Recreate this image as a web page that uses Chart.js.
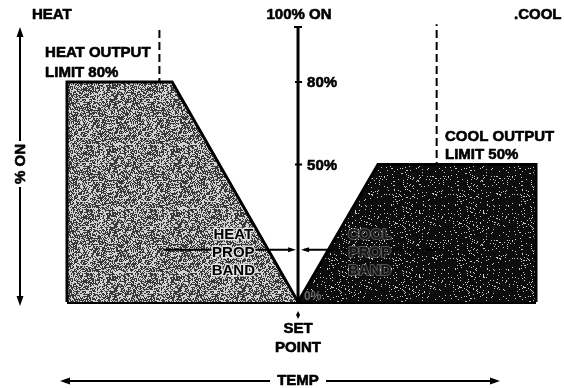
<!DOCTYPE html>
<html>
<head>
<meta charset="utf-8">
<script src="https://cdn.jsdelivr.net/npm/chart.js@4.4.1/dist/chart.umd.min.js"></script>
<style>
  html, body { margin: 0; padding: 0; background: #fff; }
  canvas { display: block; }
</style>
</head>
<body>
<canvas id="chart" width="564" height="388"></canvas>
<script>
// Temperature relative to the set point (arbitrary units) against output in % ON
const heatTemp = [-10, -10, -5.45, 0];
const heatOut  = [0, 80, 80, 0];
const coolTemp = [0, 3.46, 10.3, 10.3];
const coolOut  = [0, 50, 50, 0];

// proportional band edges and the level the band arrows sit at
const heatBandEdge = -6;
const coolBandEdge = 6;
const bandArrowLevel = 19;

// ticks on the centre (set point) axis
const axisTicks = [80, 50];
const axisTickLabels = ['80%', '50%'];

const FONT = "bold 15px 'Liberation Sans', Arial, sans-serif";

// cheap deterministic hash, used only for the stipple texture
function hash(n) {
  let h = (n * 2654435761) >>> 0;
  h ^= h >>> 13; h = Math.imul(h, 1274126177) >>> 0; h = (h ^ (h >>> 16)) >>> 0;
  return h / 4294967296;
}

function stipple(base, speck, amount, seed) {
  const c = document.createElement('canvas');
  c.width = 64; c.height = 64;
  const g = c.getContext('2d');
  const img = g.createImageData(64, 64);
  for (let i = 0; i < 64 * 64; i++) {
    const v = hash(i * 7 + seed) < amount ? speck : base;
    img.data[i * 4] = v; img.data[i * 4 + 1] = v; img.data[i * 4 + 2] = v; img.data[i * 4 + 3] = 255;
  }
  g.putImageData(img, 0, 0);
  return g.createPattern(c, 'repeat');
}

const toPoints = (xs, ys) => xs.map((x, i) => ({ x, y: ys[i] }));

function arrowHead(ctx, x, y, dir, len, half) {
  // dir: angle the arrow points to
  ctx.save();
  ctx.translate(x, y);
  ctx.rotate(dir);
  ctx.beginPath();
  ctx.moveTo(0, 0);
  ctx.lineTo(-len, -half);
  ctx.lineTo(-len, half);
  ctx.closePath();
  ctx.fill();
  ctx.restore();
}

// heavy ink: fill plus a thin stroke of the same colour
function ink(ctx, text, x, y) {
  ctx.lineWidth = 0.6;
  ctx.strokeText(text, x, y);
  ctx.fillText(text, x, y);
}

const annotations = {
  id: 'annotations',
  afterDatasetsDraw(chart) {
    const ctx = chart.ctx;
    const X = v => chart.scales.x.getPixelForValue(v);
    const Y = v => chart.scales.y.getPixelForValue(v);
    const x0 = X(0), y0 = Y(0);

    ctx.save();
    ctx.fillStyle = '#000';
    ctx.strokeStyle = '#000';

    // top cap and ticks of the centre axis
    ctx.lineWidth = 2;
    ctx.beginPath();
    ctx.moveTo(x0 - 4, Y(100)); ctx.lineTo(x0 + 4, Y(100));
    axisTicks.forEach(t => { ctx.moveTo(x0 - 3, Y(t)); ctx.lineTo(x0 + 4, Y(t)); });
    ctx.stroke();

    ctx.font = FONT;
    ctx.textBaseline = 'middle';
    ctx.textAlign = 'left';
    axisTicks.forEach((t, i) => ink(ctx, axisTickLabels[i], x0 + 9, Y(t) + 1));

    // proportional band arrows
    const by = Y(bandArrowLevel);
    ctx.lineWidth = 2;
    ctx.beginPath();
    ctx.moveTo(X(heatBandEdge) + 4, by); ctx.lineTo(x0 - 6, by);
    ctx.moveTo(x0 + 6, by); ctx.lineTo(X(coolBandEdge), by);
    ctx.stroke();
    arrowHead(ctx, x0 - 2, by, 0, 8, 2.5);
    arrowHead(ctx, x0 + 3, by, Math.PI, 8, 2.5);

    // titles along the top
    ctx.textAlign = 'left';
    ink(ctx, 'HEAT', 32, 15);
    ink(ctx, '.COOL', 514, 15);
    ctx.textAlign = 'center';
    ink(ctx, '100% ON', x0 + 1, 15);

    // output limit notes
    ctx.textAlign = 'left';
    ink(ctx, 'HEAT OUTPUT', X(-10.95), Y(90.6));
    ink(ctx, 'LIMIT 80%', X(-10.95), Y(83.3));
    ink(ctx, 'COOL OUTPUT', X(6.36), Y(60));
    ink(ctx, 'LIMIT 50%', X(6.36), Y(53.4));

    // band labels inside the filled areas
    ctx.textAlign = 'center';
    ctx.lineJoin = 'round';
    ['HEAT', 'PROP', 'BAND'].forEach((w, i) => {
      const y = Y(24.4 - i * 6.5);
      ctx.lineWidth = 3; ctx.strokeStyle = 'rgba(235,235,235,0.9)';
      ctx.strokeText(w, X(-2.8), y);
      ctx.fillStyle = '#000';
      ctx.fillText(w, X(-2.8), y);
    });
    ['COOL', 'PROP', 'BAND'].forEach((w, i) => {
      const y = Y(24.4 - i * 6.5);
      ctx.lineWidth = 2; ctx.strokeStyle = 'rgba(200,200,200,0.4)';
      ctx.strokeText(w, X(3.1), y);
      ctx.fillStyle = '#151515';
      ctx.fillText(w, X(3.1), y);
    });
    ctx.fillStyle = '#666';
    ctx.textAlign = 'left';
    ctx.font = "bold 12px 'Liberation Sans', Arial, sans-serif";
    ctx.fillText('0%', x0 + 6, y0 - 5);

    // back to plain black ink
    ctx.fillStyle = '#000';
    ctx.strokeStyle = '#000';

    // set point marker and label
    ctx.beginPath();
    ctx.moveTo(x0, y0 + 9); ctx.lineTo(x0 + 2, y0 + 13); ctx.lineTo(x0, y0 + 17); ctx.lineTo(x0 - 2, y0 + 13);
    ctx.closePath(); ctx.fill();
    ctx.font = FONT;
    ctx.textAlign = 'center';
    ink(ctx, 'SET', x0, y0 + 27);
    ink(ctx, 'POINT', x0, y0 + 46);

    // temperature arrow along the bottom
    ink(ctx, 'TEMP', x0, 381);
    ctx.lineWidth = 2;
    ctx.beginPath();
    ctx.moveTo(66, 381); ctx.lineTo(x0 - 28, 381);
    ctx.moveTo(x0 + 28, 381); ctx.lineTo(494, 381);
    ctx.stroke();
    arrowHead(ctx, 60, 381, Math.PI, 10, 3.5);
    arrowHead(ctx, 500, 381, 0, 10, 3.5);

    // % ON arrow down the left side
    ctx.save();
    ctx.translate(20, 164);
    ctx.rotate(-Math.PI / 2);
    ink(ctx, '% ON', 0, 1);
    ctx.restore();
    ctx.lineWidth = 2;
    ctx.beginPath();
    ctx.moveTo(20, 33); ctx.lineTo(20, 141);
    ctx.moveTo(20, 187); ctx.lineTo(20, 300);
    ctx.stroke();
    arrowHead(ctx, 20, 27, -Math.PI / 2, 10, 3.5);
    arrowHead(ctx, 20, 306, Math.PI / 2, 10, 3.5);

    ctx.restore();
  }
};

const ctx = document.getElementById('chart').getContext('2d');
const heatFill = stipple(210, 55, 0.52, 11);
const coolFill = stipple(12, 200, 0.08, 97);

new Chart(ctx, {
  type: 'scatter',
  data: {
    datasets: [
      {
        label: 'heat',
        data: toPoints(heatTemp, heatOut),
        showLine: true,
        fill: 'origin',
        backgroundColor: heatFill,
        borderColor: '#000',
        borderWidth: 3,
        tension: 0
      },
      {
        label: 'cool',
        data: toPoints(coolTemp, coolOut),
        showLine: true,
        fill: 'origin',
        backgroundColor: coolFill,
        borderColor: '#000',
        borderWidth: 3,
        tension: 0
      },
      {
        label: 'heat band edge',
        data: toPoints([heatBandEdge, heatBandEdge], [0, 100]),
        showLine: true,
        borderColor: '#000',
        borderWidth: 2,
        borderDash: [8, 4]
      },
      {
        label: 'cool band edge',
        data: toPoints([coolBandEdge, coolBandEdge], [0, 101]),
        showLine: true,
        borderColor: '#000',
        borderWidth: 2,
        borderDash: [8, 4]
      },
      {
        label: 'baseline',
        data: toPoints([-10, 10.3], [0, 0]),
        showLine: true,
        borderColor: '#000',
        borderWidth: 4
      },
      {
        label: 'set point axis',
        data: toPoints([0, 0], [0, 100]),
        showLine: true,
        borderColor: '#000',
        borderWidth: 3
      }
    ]
  },
  options: {
    responsive: false,
    animation: false,
    layout: { padding: { left: 67, right: 28, top: 27, bottom: 86 } },
    elements: { point: { radius: 0, hoverRadius: 0 } },
    datasets: { scatter: { clip: false } },
    plugins: {
      legend: { display: false },
      tooltip: { enabled: false }
    },
    scales: {
      x: { type: 'linear', min: -10, max: 10.3, display: false },
      y: { min: 0, max: 100, display: false }
    }
  },
  plugins: [annotations]
});
</script>
</body>
</html>
